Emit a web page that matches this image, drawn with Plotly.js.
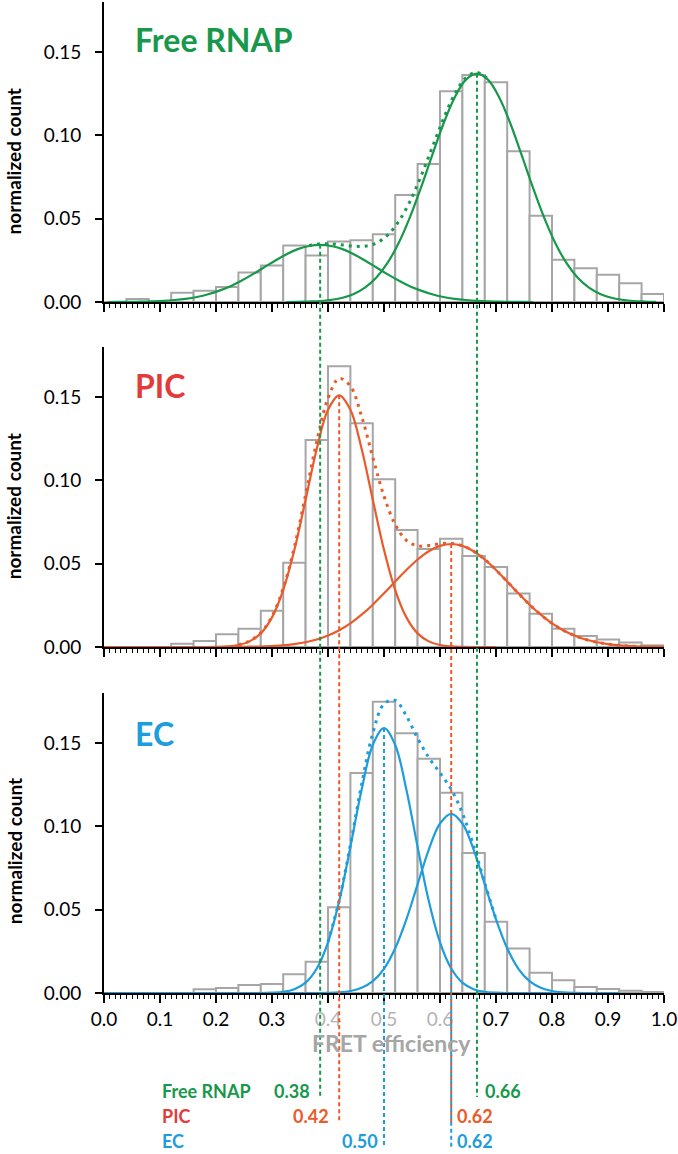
<!DOCTYPE html>
<html>
<head>
<meta charset="utf-8">
<script src="https://cdn.plot.ly/plotly-3.0.1.min.js"></script>
<style>html,body{margin:0;padding:0;background:#fff;}#chart{width:678px;height:1154px;}</style>
</head>
<body>
<div id="chart"></div>
<script>
// ---------------- DATA ----------------
const binCenters = [0.02,0.06,0.10,0.14,0.18,0.22,0.26,0.30,0.34,0.38,0.42,0.46,0.50,0.54,0.58,0.62,0.66,0.70,0.74,0.78,0.82,0.86,0.90,0.94,0.98];

const freeCounts = [0,0.0018,0,0.0056,0.0068,0.0090,0.0177,0.0219,0.0339,0.0279,0.0363,0.0371,0.0406,0.0642,0.0828,0.1264,0.1362,0.1318,0.0905,0.0518,0.0253,0.0203,0.0164,0.0112,0.0048];
const picCounts  = [0,0,0,0.0020,0.0036,0.0076,0.0110,0.0217,0.0506,0.1242,0.1685,0.1342,0.1007,0.0702,0.0588,0.0650,0.0546,0.0480,0.0321,0.0199,0.0110,0.0066,0.0046,0.0028,0.0010];
const ecCounts   = [0,0,0,0,0.0022,0.0030,0.0048,0.0054,0.0112,0.0187,0.0515,0.1320,0.1747,0.1558,0.1406,0.1201,0.0840,0.0427,0.0267,0.0122,0.0076,0.0036,0.0024,0.0014,0.0006];

// Free RNAP fitted components
const freeFit1X = [0.006,0.026,0.046,0.066,0.086,0.106,0.126,0.146,0.166,0.186,0.206,0.226,0.246,0.266,0.286,0.306,0.326,0.346,0.366,0.386,0.406,0.426,0.446,0.466,0.486,0.506,0.526,0.546,0.566,0.586,0.606,0.626,0.646,0.666,0.686,0.706,0.726,0.746,0.766];
const freeFit1Y = [0.0000,0.0001,0.0001,0.0002,0.0004,0.0007,0.0012,0.0019,0.0030,0.0046,0.0068,0.0095,0.0129,0.0167,0.0208,0.0249,0.0287,0.0317,0.0336,0.0343,0.0336,0.0317,0.0287,0.0249,0.0208,0.0167,0.0129,0.0095,0.0068,0.0046,0.0030,0.0019,0.0012,0.0007,0.0004,0.0002,0.0001,0.0001,0.0000];
const freeFit2X = [0.326,0.346,0.366,0.386,0.406,0.426,0.446,0.466,0.486,0.506,0.526,0.546,0.566,0.586,0.606,0.626,0.646,0.666,0.686,0.706,0.726,0.746,0.766,0.786,0.806,0.826,0.846,0.866,0.886,0.906,0.926,0.946,0.966,0.986];
const freeFit2Y = [0.0000,0.0001,0.0003,0.0006,0.0013,0.0025,0.0048,0.0086,0.0145,0.0233,0.0353,0.0506,0.0686,0.0880,0.1068,0.1226,0.1333,0.1370,0.1333,0.1226,0.1068,0.0880,0.0686,0.0506,0.0353,0.0233,0.0145,0.0086,0.0048,0.0025,0.0013,0.0006,0.0003,0.0001];
const freeSumX = [0.366,0.386,0.406,0.426,0.446,0.466,0.486,0.506,0.526,0.546,0.566,0.586,0.606,0.626,0.646,0.666,0.686];
const freeSumY = [0.0339,0.0349,0.0349,0.0342,0.0335,0.0335,0.0353,0.0400,0.0482,0.0601,0.0754,0.0926,0.1098,0.1245,0.1345,0.1377,0.1337];

// PIC fitted components
const picFit1X = [0.00,0.16,0.18,0.20,0.22,0.24,0.26,0.28,0.30,0.32,0.34,0.36,0.38,0.40,0.42,0.44,0.46,0.48,0.50,0.52,0.54,0.56,0.58,0.60,0.62,0.64,0.66,0.70];
const picFit1Y = [0,0,0.0000,0.0001,0.0004,0.0012,0.0034,0.0082,0.0178,0.0342,0.0583,0.0884,0.1190,0.1423,0.1510,0.1423,0.1190,0.0884,0.0583,0.0342,0.0178,0.0082,0.0034,0.0012,0.0004,0.0001,0.0000,0];
const picFit2X = [0.00,0.20,0.22,0.24,0.26,0.28,0.30,0.32,0.34,0.36,0.38,0.40,0.42,0.44,0.46,0.48,0.50,0.52,0.54,0.56,0.58,0.60,0.62,0.64,0.66,0.68,0.70,0.72,0.74,0.76,0.78,0.80,0.82,0.84,0.86,0.88,0.90,0.92,0.94,0.96,0.98,1.00];
const picFit2Y = [0,0,0.0000,0.0001,0.0002,0.0003,0.0006,0.0010,0.0018,0.0029,0.0045,0.0069,0.0101,0.0142,0.0194,0.0254,0.0322,0.0393,0.0462,0.0525,0.0575,0.0607,0.0618,0.0607,0.0575,0.0525,0.0462,0.0393,0.0322,0.0254,0.0194,0.0142,0.0101,0.0069,0.0045,0.0029,0.0018,0.0010,0.0006,0.0003,0.0002,0.0001];
const picSumX = [0.24,0.26,0.28,0.30,0.32,0.34,0.36,0.38,0.40,0.42,0.44,0.46,0.48,0.50,0.52,0.54,0.56,0.58,0.60,0.62,0.64,0.66,0.68,0.70,0.72,0.74,0.76,0.78,0.80,0.82,0.84,0.86,0.88,0.90,0.92,0.94,0.96];
const picSumY = [0.0013,0.0036,0.0085,0.0184,0.0352,0.0601,0.0913,0.1235,0.1492,0.1611,0.1565,0.1384,0.1138,0.0905,0.0735,0.0640,0.0607,0.0609,0.0619,0.0622,0.0608,0.0575,0.0525,0.0462,0.0393,0.0322,0.0254,0.0194,0.0142,0.0101,0.0069,0.0045,0.0029,0.0018,0.0010,0.0006,0.0003];

// EC fitted components
const ecFit1X = [0.00,0.26,0.28,0.30,0.32,0.34,0.36,0.38,0.40,0.42,0.44,0.46,0.48,0.50,0.52,0.54,0.56,0.58,0.60,0.62,0.64,0.66,0.68,0.70,0.72,0.80];
const ecFit1Y = [0,0,0.0000,0.0002,0.0007,0.0023,0.0062,0.0147,0.0304,0.0552,0.0877,0.1220,0.1488,0.1590,0.1488,0.1220,0.0877,0.0552,0.0304,0.0147,0.0062,0.0023,0.0007,0.0002,0.0000,0];
const ecFit2X = [0.20,0.38,0.40,0.42,0.44,0.46,0.48,0.50,0.52,0.54,0.56,0.58,0.60,0.62,0.64,0.66,0.68,0.70,0.72,0.74,0.76,0.78,0.80,0.82,0.84,0.86,0.92];
const ecFit2Y = [0,0.0000,0.0001,0.0004,0.0012,0.0031,0.0071,0.0145,0.0268,0.0442,0.0652,0.0861,0.1017,0.1075,0.1017,0.0861,0.0652,0.0442,0.0268,0.0145,0.0071,0.0031,0.0012,0.0004,0.0001,0.0000,0];
const ecSumX = [0.40,0.42,0.44,0.46,0.48,0.50,0.52,0.54,0.56,0.58,0.60,0.62,0.64,0.66,0.68,0.70];
const ecSumY = [0.0305,0.0556,0.0889,0.1251,0.1559,0.1735,0.1756,0.1662,0.1529,0.1413,0.1321,0.1222,0.1079,0.0884,0.0659,0.0444];

// peak positions and labels
const freePeaks = [0.386, 0.666];
const picPeaks  = [0.42, 0.62];
const ecPeaks   = [0.50, 0.62];
const freePeakLabels = ['0.38', '0.66'];
const picPeakLabels  = ['0.42', '0.62'];
const ecPeakLabels   = ['0.50', '0.62'];

const panelNames = ['Free RNAP', 'PIC', 'EC'];
const xTickVals = [0.0,0.1,0.2,0.3,0.4,0.5,0.6,0.7,0.8,0.9,1.0];
const xTickText = ['0.0','0.1','0.2','0.3','0.4','0.5','0.6','0.7','0.8','0.9','1.0'];
const xTickMuted = [false,false,false,false,true,true,true,false,false,false,false];
const yTickVals = [0, 0.05, 0.10, 0.15];
const xTitle = 'FRET efficiency';
const yTitle = 'normalized count';

// ---------------- STYLE ----------------
const GREEN = '#17984a', ORANGE = '#ea5a2a', RED = '#e33b3b', BLUE = '#1d9ddb', GRAY = '#a6a6a6';
const FONT = 'Lato, "Open Sans", sans-serif';
const YMAX = 0.18;
const domTop = [0.6973, 1.0], domMid = [0.3491, 0.6519], domBot = [0.0, 0.3027];

function bars(y, xa, ya) {
  return {type:'bar', x: binCenters, y: y, width: 0.04, xaxis: xa, yaxis: ya,
    marker:{color:'#ffffff', line:{color:GRAY, width:2}}, hoverinfo:'skip'};
}
function solid(x, y, c, xa, ya) {
  return {type:'scatter', mode:'lines', x:x, y:y, xaxis:xa, yaxis:ya,
    line:{color:c, width:2.2, shape:'spline', smoothing:1}, hoverinfo:'skip'};
}
function dotted(x, y, c, xa, ya) {
  return {type:'scatter', mode:'lines', x:x, y:y, xaxis:xa, yaxis:ya,
    line:{color:c, width:3, shape:'spline', smoothing:1, dash:'3px,5px'}, hoverinfo:'skip'};
}

const traces = [
  bars(freeCounts,'x','y'),
  solid(freeFit1X, freeFit1Y, GREEN,'x','y'),
  solid(freeFit2X, freeFit2Y, GREEN,'x','y'),
  dotted(freeSumX, freeSumY, GREEN,'x','y'),
  bars(picCounts,'x2','y2'),
  solid(picFit1X, picFit1Y, ORANGE,'x2','y2'),
  solid(picFit2X, picFit2Y, ORANGE,'x2','y2'),
  dotted(picSumX, picSumY, ORANGE,'x2','y2'),
  bars(ecCounts,'x3','y3'),
  solid(ecFit1X, ecFit1Y, BLUE,'x3','y3'),
  solid(ecFit2X, ecFit2Y, BLUE,'x3','y3'),
  dotted(ecSumX, ecSumY, BLUE,'x3','y3')
];

function xAxis(dom, anchor, labels) {
  return {domain:[0,1], anchor:anchor, range:[0,1], type:'linear',
    showline:true, linecolor:'#000', linewidth:2, zeroline:false, showgrid:false,
    ticks:'outside', ticklen:8, tickwidth:1.6, tickcolor:'#000',
    tickvals:xTickVals,
    ticktext: xTickText.map((t,i)=> xTickMuted[i] ? '<span style="color:#b4b4b4">'+t+'</span>' : t),
    showticklabels:labels, tickfont:{family:FONT, size:19, color:'#000'},
    minor:{dtick:0.01, tick0:0, ticks:'outside', ticklen:4, tickwidth:1, tickcolor:'#000'},
    fixedrange:true};
}
function yAxis(dom, anchor) {
  return {domain:dom, anchor:anchor, range:[0,YMAX], showline:true, linecolor:'#000', linewidth:2,
    zeroline:false, showgrid:false, ticks:'outside', ticklen:7, tickwidth:2, tickcolor:'#000',
    tickvals:yTickVals, tickformat:'.2f', ticklabelstandoff:10,
    tickfont:{family:FONT, size:19, color:'#000'}, fixedrange:true};
}

function paperY(dom, v) { return dom[0] + v / YMAX * (dom[1] - dom[0]); }
function vline(x, yTopVal, dom, yEnd, color) {
  return {type:'line', xref:'x3', yref:'paper', x0:x, x1:x, y0:paperY(dom, yTopVal), y1:yEnd,
    line:{color:color, width:2, dash:'4px,3px'}, layer:'above'};
}
const ROW1 = -0.0989, ROW2 = -0.1241, ROW3 = -0.1493;
const shapes = [
  vline(freePeaks[0], Math.max(...freeFit1Y), domTop, -0.1050, GREEN),
  vline(freePeaks[1], Math.max(...freeFit2Y), domTop, -0.1050, GREEN),
  vline(picPeaks[0], Math.max(...picFit1Y), domMid, -0.1302, ORANGE),
  vline(picPeaks[1], Math.max(...picFit2Y), domMid, -0.1302, ORANGE),
  vline(ecPeaks[0], Math.max(...ecFit1Y), domBot, -0.1554, BLUE),
  vline(ecPeaks[1], Math.max(...ecFit2Y), domBot, -0.1554, BLUE)
];

function ann(text, x, y, opts) {
  return Object.assign({text:text, x:x, y:y, xref:'paper', yref:'paper', showarrow:false,
    xanchor:'left', yanchor:'middle', font:{family:FONT, size:19, color:'#000', weight:700}}, opts||{});
}
const rowFont = c => ({family:FONT, size:18, color:c, weight:700});
const yTitleFont = {family:FONT, size:19, color:'#000', weight:700};
const annotations = [
  ann(panelNames[0], 0.052, 0.962, {font:{family:FONT, size:32, color:GREEN, weight:700}}),
  ann(panelNames[1], 0.052, 0.613, {font:{family:FONT, size:32, color:RED, weight:700}}),
  ann(panelNames[2], 0.052, 0.262, {font:{family:FONT, size:32, color:BLUE, weight:700}}),
  ann(yTitle, -0.161, 0.839, {xanchor:'center', textangle:-90, font:yTitleFont}),
  ann(yTitle, -0.161, 0.491, {xanchor:'center', textangle:-90, font:yTitleFont}),
  ann(yTitle, -0.161, 0.143, {xanchor:'center', textangle:-90, font:yTitleFont}),
  ann(xTitle, 0.514, -0.0505, {xanchor:'center', font:{family:FONT, size:23, color:GRAY, weight:700}}),
  // bottom value rows
  ann(panelNames[0], 0.10, ROW1, {font:rowFont(GREEN)}),
  ann(panelNames[1], 0.10, ROW2, {font:rowFont(RED)}),
  ann(panelNames[2], 0.10, ROW3, {font:rowFont(BLUE)}),
  ann(freePeakLabels[0], freePeaks[0], ROW1, {xref:'x3', xanchor:'right', xshift:-8, font:rowFont(GREEN)}),
  ann(freePeakLabels[1], freePeaks[1], ROW1, {xref:'x3', xanchor:'left', xshift:6, font:rowFont(GREEN)}),
  ann(picPeakLabels[0], picPeaks[0], ROW2, {xref:'x3', xanchor:'right', xshift:-8, font:rowFont(ORANGE)}),
  ann(picPeakLabels[1], picPeaks[1], ROW2, {xref:'x3', xanchor:'left', xshift:4, font:rowFont(ORANGE)}),
  ann(ecPeakLabels[0], ecPeaks[0], ROW3, {xref:'x3', xanchor:'right', xshift:-4, font:rowFont(BLUE)}),
  ann(ecPeakLabels[1], ecPeaks[1], ROW3, {xref:'x3', xanchor:'left', xshift:4, font:rowFont(BLUE)})
];

const layout = {
  width:678, height:1154, paper_bgcolor:'#fff', plot_bgcolor:'rgba(0,0,0,0)',
  margin:{l:104, r:14, t:2, b:161, pad:0}, showlegend:false, bargap:0,
  font:{family:FONT},
  xaxis: xAxis(domTop,'y',false), yaxis: yAxis(domTop,'x'),
  xaxis2: xAxis(domMid,'y2',false), yaxis2: yAxis(domMid,'x2'),
  xaxis3: xAxis(domBot,'y3',true), yaxis3: yAxis(domBot,'x3'),
  shapes: shapes, annotations: annotations
};

Plotly.newPlot('chart', traces, layout, {displayModeBar:false, staticPlot:true});
</script>
</body>
</html>
